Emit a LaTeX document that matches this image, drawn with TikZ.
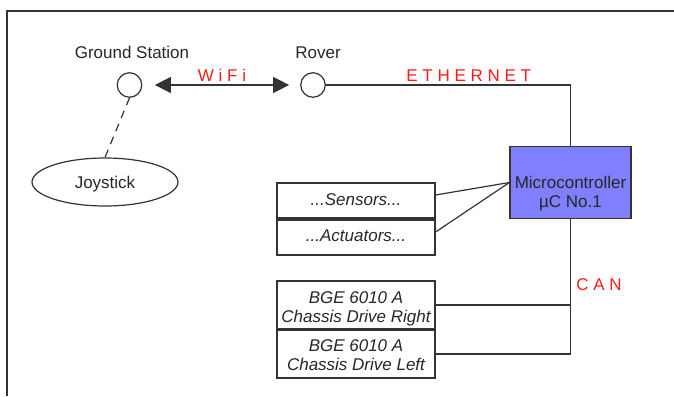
\documentclass[tikz,border=0pt]{standalone}
\usepackage{fontspec}
\setmainfont{Liberation Sans}
\usetikzlibrary{arrows.meta,shapes.geometric}
\definecolor{ln}{HTML}{333333}
\definecolor{mcfill}{HTML}{8080FF}
\definecolor{netred}{HTML}{FF1A1A}
\begin{document}
\begin{tikzpicture}[x=1pt,y=-1pt,
  every node/.style={font=\fontsize{17}{19}\selectfont, text=black!85, inner sep=0pt},
  port/.style={circle, draw=ln, line width=1.2pt, minimum size=24.5pt, fill=white},
  box/.style={rectangle, draw=ln, line width=1.2pt, minimum width=158pt},
  lab/.style={anchor=base},
  itlab/.style={anchor=base, font=\fontsize{17}{19}\selectfont\itshape},
  net/.style={anchor=base, text=netred},
  wire/.style={draw=ln, line width=1.2pt},
  >={Triangle[length=16pt,width=16pt]}
]
\useasboundingbox (0,0) rectangle (674,396);
% frame
\coordinate (fbl) at (7,396);
\coordinate (ftl) at (7,11);
\coordinate (ftr) at (674,11);
\draw[ln, line width=1.5pt] (fbl) -- (ftl) -- (ftr);

% ports
\node[port] (gs) at (129.5,85) {};
\node[port] (rover) at (313,85) {};
\node[lab] (gsl) at (132,58.3) {Ground Station};
\node[lab] (rvl) at (318,58.3) {Rover};

% joystick
\node[ellipse, draw=ln, line width=1.2pt, minimum width=146pt, minimum height=48pt,
      text height=12.2pt, text depth=0pt] (joy) at (105,182) {Joystick};

% microcontroller
\node[rectangle, draw=ln, line width=1.2pt, fill=mcfill, minimum width=121pt, minimum height=72pt] (micro) at (570.5,182.5) {};
\node[lab] (mt1) at (570.5,188.3) {Microcontroller};
\node[lab] (mt2) at (570.5,207.3) {µC No.1};

% sensors / actuators
\node[box, minimum height=35pt] (sens) at (356,200.5) {};
\node[box, minimum height=35pt] (act) at (356,237.5) {};
\node[itlab] (senst) at (356,205) {...Sensors...};
\node[itlab] (actt) at (356,241.7) {...Actuators...};

% drives
\node[box, minimum height=48pt] (bgeR) at (356,305) {};
\node[box, minimum height=48pt] (bgeL) at (356,354) {};
\node[itlab] (bR1) at (356,303.3) {BGE 6010 A};
\node[itlab] (bR2) at (356,322.3) {Chassis Drive Right};
\node[itlab] (bL1) at (356,351.7) {BGE 6010 A};
\node[itlab] (bL2) at (356,370.7) {Chassis Drive Left};

% network labels
\node[net] (wifi) at (222,81.7) {W i F i};
\node[net] (eth) at (468.7,81.7) {E T H E R N E T};
\node[net] (can) at (599,290) {C A N};

% connectors
\draw[wire, <->, shorten <=12.5pt, shorten >=11pt] (gs) -- (rover);
\draw[wire, dash pattern=on 8pt off 6pt] (gs.south) -- (joy.north);
\draw[wire] (rover) -| (micro.north);
\draw[wire] ([yshift=5.5pt]sens.east) -- (micro.west);
\draw[wire] ([yshift=5.5pt]act.east) -- (micro.west);
\draw[wire] (micro.south) |- (bgeL.east);
\draw[wire] (bgeR.east) -- (bgeR.east -| micro.south);
\end{tikzpicture}
\end{document}
